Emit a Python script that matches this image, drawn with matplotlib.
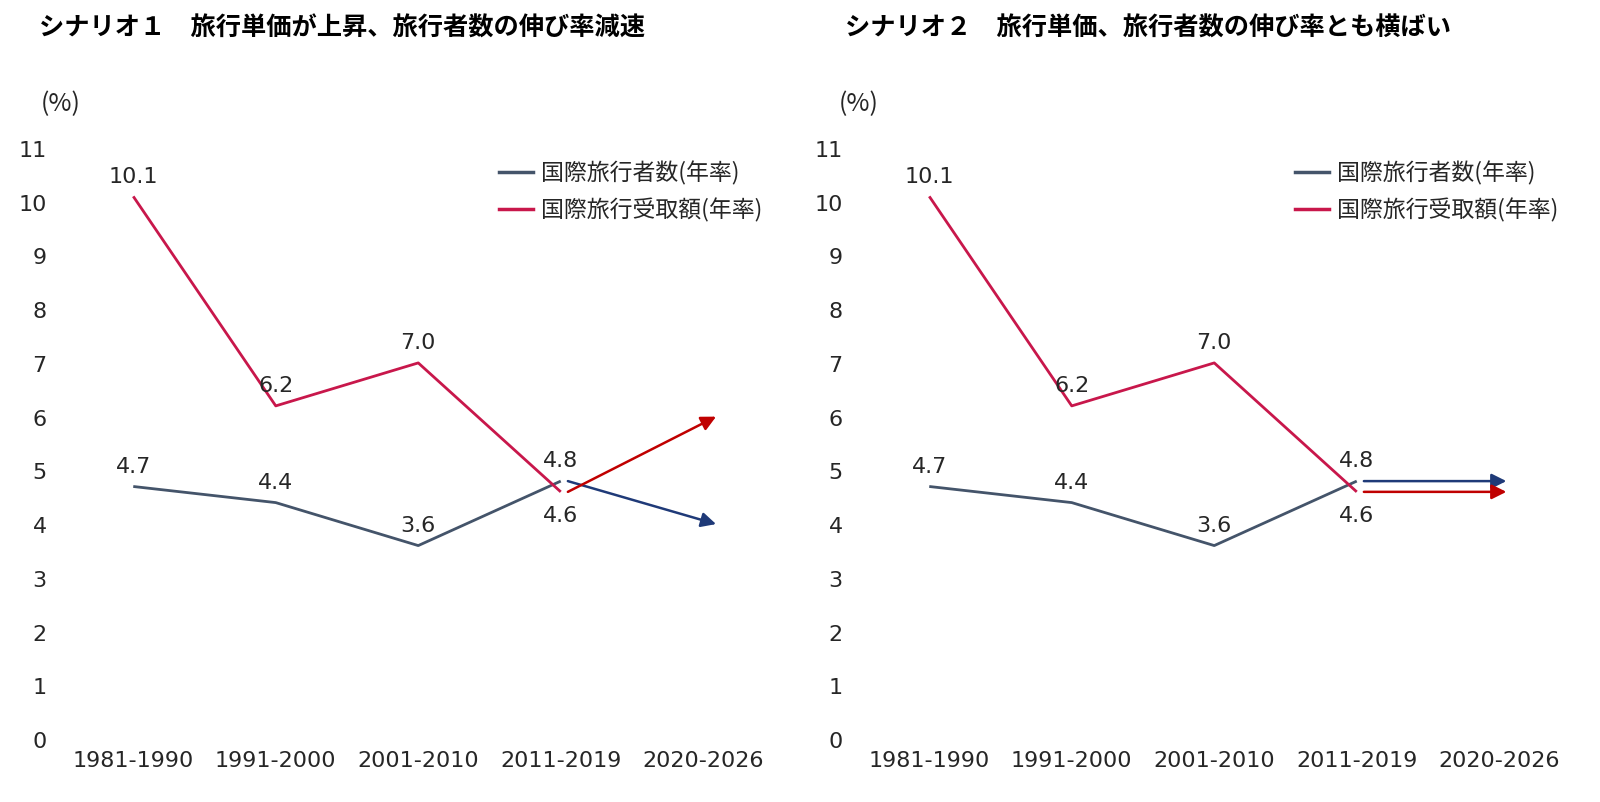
import matplotlib
matplotlib.use("Agg")
import matplotlib.pyplot as plt
from matplotlib.lines import Line2D

plt.rcParams['font.family'] = ['DejaVu Sans', 'Noto Sans CJK JP']

# ---- data ----
periods = ["1981-1990", "1991-2000", "2001-2010", "2011-2019", "2020-2026"]
travelers = [4.7, 4.4, 3.6, 4.8]          # 国際旅行者数(年率)
receipts = [10.1, 6.2, 7.0, 4.6]          # 国際旅行受取額(年率)
# forecast (arrow end) values for 2020-2026
s1_travelers_fc = 4.0
s1_receipts_fc = 6.0
s2_travelers_fc = 4.8
s2_receipts_fc = 4.6
yticks = list(range(0, 12))
titles = ["シナリオ１　旅行単価が上昇、旅行者数の伸び率減速",
          "シナリオ２　旅行単価、旅行者数の伸び率とも横ばい"]
legend_labels = ["国際旅行者数(年率)", "国際旅行受取額(年率)"]
forecasts = [(s1_travelers_fc, s1_receipts_fc), (s2_travelers_fc, s2_receipts_fc)]
arrow_end_x = [4.09, 4.05]

# ---- styles ----
C_TRAV = "#44546A"
C_REC = "#C8174B"
C_TRAV_ARROW = "#1F3A78"
C_REC_ARROW = "#C00000"
TXT = "#262626"
CJK = ['Noto Sans CJK JP', 'DejaVu Sans']

W, H = 1600, 803
fig = plt.figure(figsize=(W / 100, H / 100), dpi=100)

ax_lefts = [62, 858]
title_x = [39, 845]
label_x = [41, 839]

for i in range(2):
    ax = fig.add_axes([ax_lefts[i] / W, 63 / H, 712.5 / W, 591 / H])
    x = list(range(len(travelers)))
    ax.plot(x, travelers, color=C_TRAV, lw=2.0, solid_capstyle='butt')
    ax.plot(x, receipts, color=C_REC, lw=2.0, solid_capstyle='butt')

    # data labels
    for xi, v in zip(x, travelers):
        ax.annotate(f"{v:.1f}", (xi, v), xytext=(0, 15), textcoords='offset points',
                    ha='center', va='center', fontsize=16, color=TXT)
    for xi, v in zip(x, receipts):
        dy = -17 if xi == 3 else 15
        ax.annotate(f"{v:.1f}", (xi, v), xytext=(0, dy), textcoords='offset points',
                    ha='center', va='center', fontsize=16, color=TXT)

    # forecast arrows
    t_fc, r_fc = forecasts[i]
    ax.annotate('', xy=(arrow_end_x[i], t_fc), xytext=(3.05, travelers[-1]),
                arrowprops=dict(arrowstyle='-|>', color=C_TRAV_ARROW, lw=1.8,
                                mutation_scale=22, shrinkA=0, shrinkB=0))
    ax.annotate('', xy=(arrow_end_x[i], r_fc), xytext=(3.05, receipts[-1]),
                arrowprops=dict(arrowstyle='-|>', color=C_REC_ARROW, lw=1.8,
                                mutation_scale=22, shrinkA=0, shrinkB=0))

    ax.set_xlim(-0.5, 4.5)
    ax.set_ylim(0, 11)
    ax.set_xticks(range(len(periods)))
    ax.set_xticklabels(periods)
    ax.set_yticks(yticks)
    ax.set_yticklabels([str(t) for t in yticks])
    ax.tick_params(axis='both', length=0, labelsize=16, labelcolor=TXT)
    ax.tick_params(axis='y', pad=11)
    ax.tick_params(axis='x', pad=8)
    for s in ax.spines.values():
        s.set_visible(False)

    leg_handles = [Line2D([], [], color=C_TRAV, lw=2.5),
                   Line2D([], [], color=C_REC, lw=2.5)]
    ax.legend(leg_handles, legend_labels, loc='upper left',
              bbox_to_anchor=((ax_lefts[i] + 426) / W, 1 - 150 / H),
              bbox_transform=fig.transFigure, frameon=False,
              prop={'family': CJK, 'size': 16.5}, handlelength=1.45,
              handletextpad=0.35, labelspacing=0.55, labelcolor=TXT, borderpad=0)

    fig.text(title_x[i] / W, 1 - 28 / H, titles[i], fontsize=18.2, fontweight='bold',
             family=CJK, ha='left', va='center', color='black')
    fig.text(label_x[i] / W, 1 - 104 / H, "(%)", fontsize=18, family=CJK,
             ha='left', va='center', color=TXT)

fig.savefig("out.png", dpi=100, facecolor='white')
